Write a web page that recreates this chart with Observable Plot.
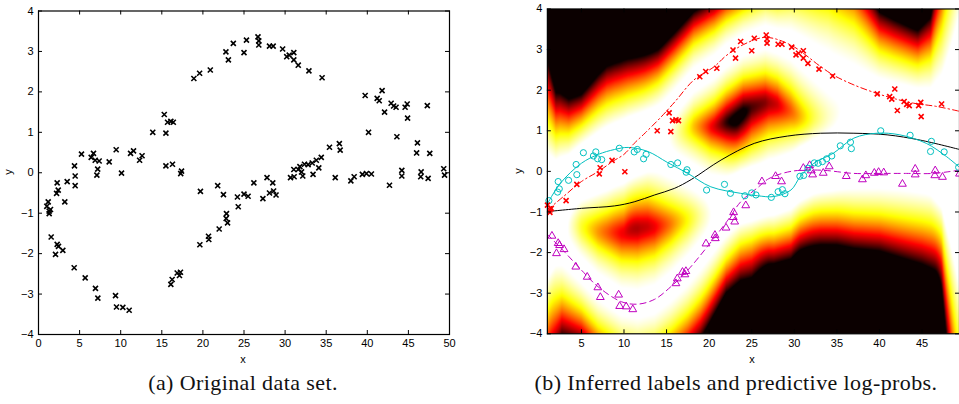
<!DOCTYPE html>
<html><head><meta charset="utf-8">
<script src="https://cdn.jsdelivr.net/npm/d3@7"></script>
<script src="https://cdn.jsdelivr.net/npm/@observablehq/plot@0.6"></script>
<style>
html,body{margin:0;padding:0;background:#fff;width:959px;height:404px;overflow:hidden;position:relative}
.panel{position:absolute;top:0}
.cap{position:absolute;top:370px;font-size:22px;letter-spacing:0.4px;white-space:nowrap;transform:translateX(-50%);color:#111}
.lab{position:absolute;font-family:"Liberation Sans",Arial,sans-serif;font-size:11px;color:#000;transform:translate(-50%,-50%)}
.lab.rot{transform:translate(-50%,-50%) rotate(-90deg)}
</style></head><body>
<div id="a" class="panel" style="left:0"></div>
<div id="b" class="panel" style="left:480px"></div>
<div class="lab" style="left:243px;top:359px">x</div>
<div class="lab rot" style="left:8px;top:172px">y</div>
<div class="lab" style="left:752px;top:359px">x</div>
<div class="lab rot" style="left:518px;top:171px">y</div>
<div class="cap" style="left:243px;font-family:'Liberation Serif','DejaVu Serif','Times New Roman',Times,serif">(a) Original data set.</div>
<div class="cap" style="left:736px;font-family:'Liberation Serif','DejaVu Serif','Times New Roman',Times,serif">(b) Inferred labels and predictive log-probs.</div>
<script>
const redPts = [[1.01,-0.83],[1.3,-0.95],[1.3,-1.01],[1.46,-0.91],[3.2,-0.72],[4.46,-0.32],[7.1,-0.06],[7.2,0.09],[8.6,0.27],[10.1,-0.01],[13.9,1.0],[15.5,0.98],[15.3,1.44],[15.7,1.25],[16.1,1.27],[16.4,1.25],[18.9,2.33],[19.6,2.46],[20.9,2.54],[22.8,2.99],[23.1,2.79],[23.7,3.2],[25.0,2.97],[25.3,3.28],[26.7,3.36],[26.8,3.26],[26.8,3.16],[28.1,3.13],[28.55,3.13],[29.7,3.06],[30.2,2.87],[30.5,2.91],[31.06,2.97],[31.06,2.79],[31.6,2.66],[32.9,2.52],[34.5,2.35],[39.74,1.91],[41.2,1.84],[41.45,1.78],[41.8,2.03],[42.1,1.5],[42.9,1.72],[43.2,1.65],[43.5,1.62],[44.6,1.62],[44.85,1.7],[44.9,1.35],[47.3,1.66]];
const cyanPts = [[1.18,-0.72],[2.2,-0.51],[2.4,-0.43],[2.27,-0.25],[3.49,-0.22],[4.38,0.17],[4.46,-0.08],[5.23,0.46],[6.41,0.38],[6.69,0.48],[6.9,0.31],[7.38,0.29],[9.45,0.57],[11.2,0.48],[11.56,0.54],[12.3,0.31],[12.6,0.42],[15.5,0.17],[16.3,0.21],[17.4,0.04],[17.3,-0.02],[19.7,-0.46],[21.8,-0.32],[22.5,-0.54],[24.2,-0.6],[25.0,-0.53],[25.5,-0.58],[27.3,-0.64],[28.1,-0.5],[28.6,-0.45],[28.9,-0.55],[30.66,-0.12],[31.1,-0.1],[31.6,0.08],[32.36,0.21],[32.8,0.2],[33.3,0.24],[33.8,0.31],[34.4,0.38],[35.4,0.63],[36.6,0.72],[36.7,0.56],[40.15,1.0],[43.6,0.89],[46.1,0.74],[46.0,0.49],[47.6,0.48],[49.3,0.1]];
const magPts = [[1.54,-1.59],[2.27,-1.77],[2.43,-1.82],[2.07,-2.02],[2.96,-1.92],[4.34,-2.35],[5.68,-2.6],[6.93,-2.86],[7.22,-3.1],[9.37,-3.04],[9.49,-3.32],[10.26,-3.33],[11.03,-3.4],[16.1,-2.76],[16.26,-2.64],[16.87,-2.48],[17.27,-2.46],[17.15,-2.54],[19.63,-1.78],[20.68,-1.57],[20.72,-1.65],[21.98,-1.39],[22.87,-1.01],[22.83,-1.13],[23.0,-1.24],[24.3,-0.84],[26.2,-0.25],[27.8,-0.12],[28.5,-0.25],[31.06,0.08],[31.8,0.15],[32.0,0.02],[32.15,-0.08],[33.4,-0.04],[34.1,0.12],[36.1,-0.12],[38.0,-0.2],[38.4,-0.1],[39.4,-0.04],[39.9,-0.02],[40.5,-0.03],[42.7,-0.31],[44.2,0.06],[44.2,-0.08],[46.55,0.02],[46.5,-0.1],[47.4,-0.14],[49.4,-0.06]];

const redMeanX = [1,3,5,7,8.7,10,11.2,12.5,14.4,16,18.2,20.6,22,24,26.6,29.6,33.1,34.6,37,39.7,41.6,44,46.7,49.4];
const redMeanY = [-0.95,-0.6,-0.25,0,0.25,0.42,0.69,0.95,1.35,1.72,2.25,2.58,2.85,3.12,3.3,3.11,2.58,2.37,2.13,1.92,1.8,1.68,1.6,1.48];
const cyanMeanX = [1,2.5,5,7,8.9,10.5,12.8,15.1,17.5,20.2,23.7,25.7,27.6,29.6,30.7,32.3,34.6,37,39.7,42.4,45.5,47.9,49.4];
const cyanMeanY = [-0.8,-0.3,0.2,0.42,0.54,0.59,0.49,0.22,-0.05,-0.38,-0.54,-0.6,-0.62,-0.46,-0.13,0.2,0.45,0.82,0.94,0.9,0.69,0.36,0.1];
const magMeanX = [1,3,5,6.95,9.7,11.6,13.6,15.5,17.5,19.8,22.2,23.7,25.7,27,29.6,33.1,37,40.1,43.2,46.3,49.4];
const magMeanY = [-1.55,-1.98,-2.43,-2.84,-3.21,-3.27,-3.15,-2.84,-2.43,-1.85,-1.2,-0.75,-0.4,-0.18,0.0,0.03,-0.05,-0.05,-0.05,-0.05,0.03];
const blackX = [1,5,8.9,11.2,13.6,15.9,17.9,21.4,25.3,29.2,33.1,37,40.9,44.8,49.4];
const blackY = [-0.99,-0.91,-0.85,-0.75,-0.58,-0.42,-0.2,0.28,0.69,0.87,0.94,0.94,0.9,0.77,0.54];
const redSigX = [1,2,3.5,10,14,20,24,28,31,34,37,40,44.5,46,47.3,49.4];
const redSigY = [0.95,0.66,0.52,0.6,0.48,0.46,0.43,0.48,0.66,0.82,0.8,0.56,0.5,0.6,1.0,2.0];
const cyanSigX = [1,2,3.5,5,8,12,17,22,26,30,40,46,47.3,49.4];
const cyanSigY = [0.95,0.66,0.52,0.46,0.58,0.58,0.52,0.45,0.43,0.47,0.53,0.58,0.9,2.0];
const magSigX = [1,2.7,5,9,12,16,19,22,25,30,35,40,45,47.3,48.2,49.4];
const magSigY = [0.9,0.6,0.5,0.53,0.56,0.57,0.57,0.48,0.58,0.52,0.5,0.53,0.62,0.68,1.2,2.0];

const xTicksA = [0,5,10,15,20,25,30,35,40,45,50];
const xTicksB = [5,10,15,20,25,30,35,40,45];
const yTicks = [-4,-3,-2,-1,0,1,2,3,4];

const toObj = (arr, label) => arr.map(([x, y]) => ({x, y, label}));
const allPts = [...toObj(redPts,"r"), ...toObj(cyanPts,"c"), ...toObj(magPts,"m")];
const curve = (xs, ys) => xs.map((x, i) => ({x, y: ys[i]}));
function interp(xs, ys, x) {
  if (x <= xs[0]) return ys[0];
  for (let i = 1; i < xs.length; i++) if (x <= xs[i]) {
    const t = (x - xs[i-1]) / (xs[i] - xs[i-1]);
    return ys[i-1] + t * (ys[i] - ys[i-1]);
  }
  return ys[ys.length - 1];
}
const comps = [[redMeanX, redMeanY, redSigX, redSigY],[cyanMeanX, cyanMeanY, cyanSigX, cyanSigY],[magMeanX, magMeanY, magSigX, magSigY]];
function logp(x, y) {
  let sum = 0;
  for (const [mx, my, sx, sy] of comps) {
    const u = (y - interp(mx, my, x)) / interp(sx, sy, x);
    sum += Math.exp(-0.5 * u * u);
  }
  return Math.log(sum + 1e-12);
}
// MATLAB-style "hot" colour map as an interpolator on [0, 1]
function hot(t) {
  t = Math.max(0, Math.min(1, t));
  const r = Math.min(1, 0.0417 + t / 0.375 * (1 - 0.0417));
  const g = Math.max(0, Math.min(1, (t - 0.375) / 0.375));
  const b = Math.max(0, Math.min(1, (t - 0.75) / 0.25));
  return `rgb(${Math.round(r * 255)},${Math.round(g * 255)},${Math.round(b * 255)})`;
}
const font = "Liberation Sans, Arial, sans-serif";
function tickMarks(xt, yt, xd, yd, iw, ih) {
  const tx = (xd[1]-xd[0]) * 4 / iw, ty = (yd[1]-yd[0]) * 4 / ih;
  return [
    Plot.ruleX(xt, {x: d => d, y1: yd[0], y2: yd[0] + ty, stroke: "black"}),
    Plot.ruleX(xt, {x: d => d, y1: yd[1], y2: yd[1] - ty, stroke: "black"}),
    Plot.ruleY(yt, {y: d => d, x1: xd[0], x2: xd[0] + tx, stroke: "black"}),
    Plot.ruleY(yt, {y: d => d, x1: xd[1], x2: xd[1] - tx, stroke: "black"})
  ];
}
const minus = d => String(d).replace("-", "\u2212");

{
  const W = 470, H = 372, mL = 38, mR = 21, mT = 10.5, mB = 38;
  const xd = [0, 50], yd = [-4, 4];
  const p = Plot.plot({
    width: W, height: H, marginLeft: mL, marginRight: mR, marginTop: mT, marginBottom: mB,
    style: {fontFamily: font, fontSize: "11px", background: "white", color: "black", overflow: "visible"},
    x: {domain: xd}, y: {domain: yd},
    marks: [
      Plot.dot(allPts, {x: "x", y: "y", symbol: "times", r: 2.4, stroke: "black", strokeWidth: 1.6}),
      ...tickMarks(xTicksA, yTicks, xd, yd, W-mL-mR, H-mT-mB),
      Plot.frame({stroke: "black", strokeWidth: 1.2}),
      Plot.axisX(xTicksA, {tickSize: 0, tickPadding: 5, label: null, tickFormat: minus}),
      Plot.axisY(yTicks, {tickSize: 0, tickPadding: 5, label: null, tickFormat: minus})
    ]
  });
  document.getElementById("a").append(p);
}
{
  const W = 480, H = 372, mL = 67, mR = 0, mT = 8.5, mB = 38;
  const xd = [1, 49.4], yd = [-4, 4];
  const gw = Math.round(W - mL - mR), gh = Math.round(H - mT - mB);
  const grid = [];
  for (let j = 0; j < gh; j++) {
    const y = yd[0] + (j + 0.5) * (yd[1] - yd[0]) / gh;
    for (let i = 0; i < gw; i++) {
      const x = xd[0] + (i + 0.5) * (xd[1] - xd[0]) / gw;
      grid.push({x, y, v: logp(x, y)});
    }
  }
  const p = Plot.plot({
    width: W, height: H, marginLeft: mL, marginRight: mR, marginTop: mT, marginBottom: mB,
    style: {fontFamily: font, fontSize: "11px", background: "white", color: "black"},
    x: {domain: xd}, y: {domain: yd},
    color: {type: "linear", domain: [-6.5, -0.2], interpolate: hot, clamp: true},
    marks: [
      Plot.raster(grid, {x: "x", y: "y", fill: "v", x1: xd[0], x2: xd[1], y1: yd[0], y2: yd[1], width: gw, height: gh}),
      Plot.line(curve(blackX, blackY), {x: "x", y: "y", stroke: "black", strokeWidth: 1, curve: "catmull-rom"}),
      Plot.line(curve(magMeanX, magMeanY), {x: "x", y: "y", stroke: "#bf00bf", strokeWidth: 1, strokeDasharray: "6,4", curve: "catmull-rom"}),
      Plot.line(curve(cyanMeanX, cyanMeanY), {x: "x", y: "y", stroke: "#00bfbf", strokeWidth: 1, curve: "catmull-rom"}),
      Plot.line(curve(redMeanX, redMeanY), {x: "x", y: "y", stroke: "#ff0000", strokeWidth: 1, strokeDasharray: "6,3,1.5,3", curve: "catmull-rom"}),
      Plot.dot(toObj(magPts, "m"), {x: "x", y: "y", symbol: "triangle", r: 2.9, stroke: "#bf00bf", strokeWidth: 1, fill: "none"}),
      Plot.dot(toObj(cyanPts, "c"), {x: "x", y: "y", symbol: "circle", r: 3.1, stroke: "#00bfbf", strokeWidth: 1, fill: "none"}),
      Plot.dot(toObj(redPts, "r"), {x: "x", y: "y", symbol: "times", r: 2.4, stroke: "#ff0000", strokeWidth: 1.6}),
      ...tickMarks(xTicksB, yTicks, xd, yd, W-mL-mR, H-mT-mB),
      Plot.frame({stroke: "black", strokeWidth: 1.2}),
      Plot.axisX(xTicksB, {tickSize: 0, tickPadding: 5, label: null}),
      Plot.axisY(yTicks, {tickSize: 0, tickPadding: 5, label: null, tickFormat: minus})
    ]
  });
  document.getElementById("b").append(p);
}
</script></body></html>
